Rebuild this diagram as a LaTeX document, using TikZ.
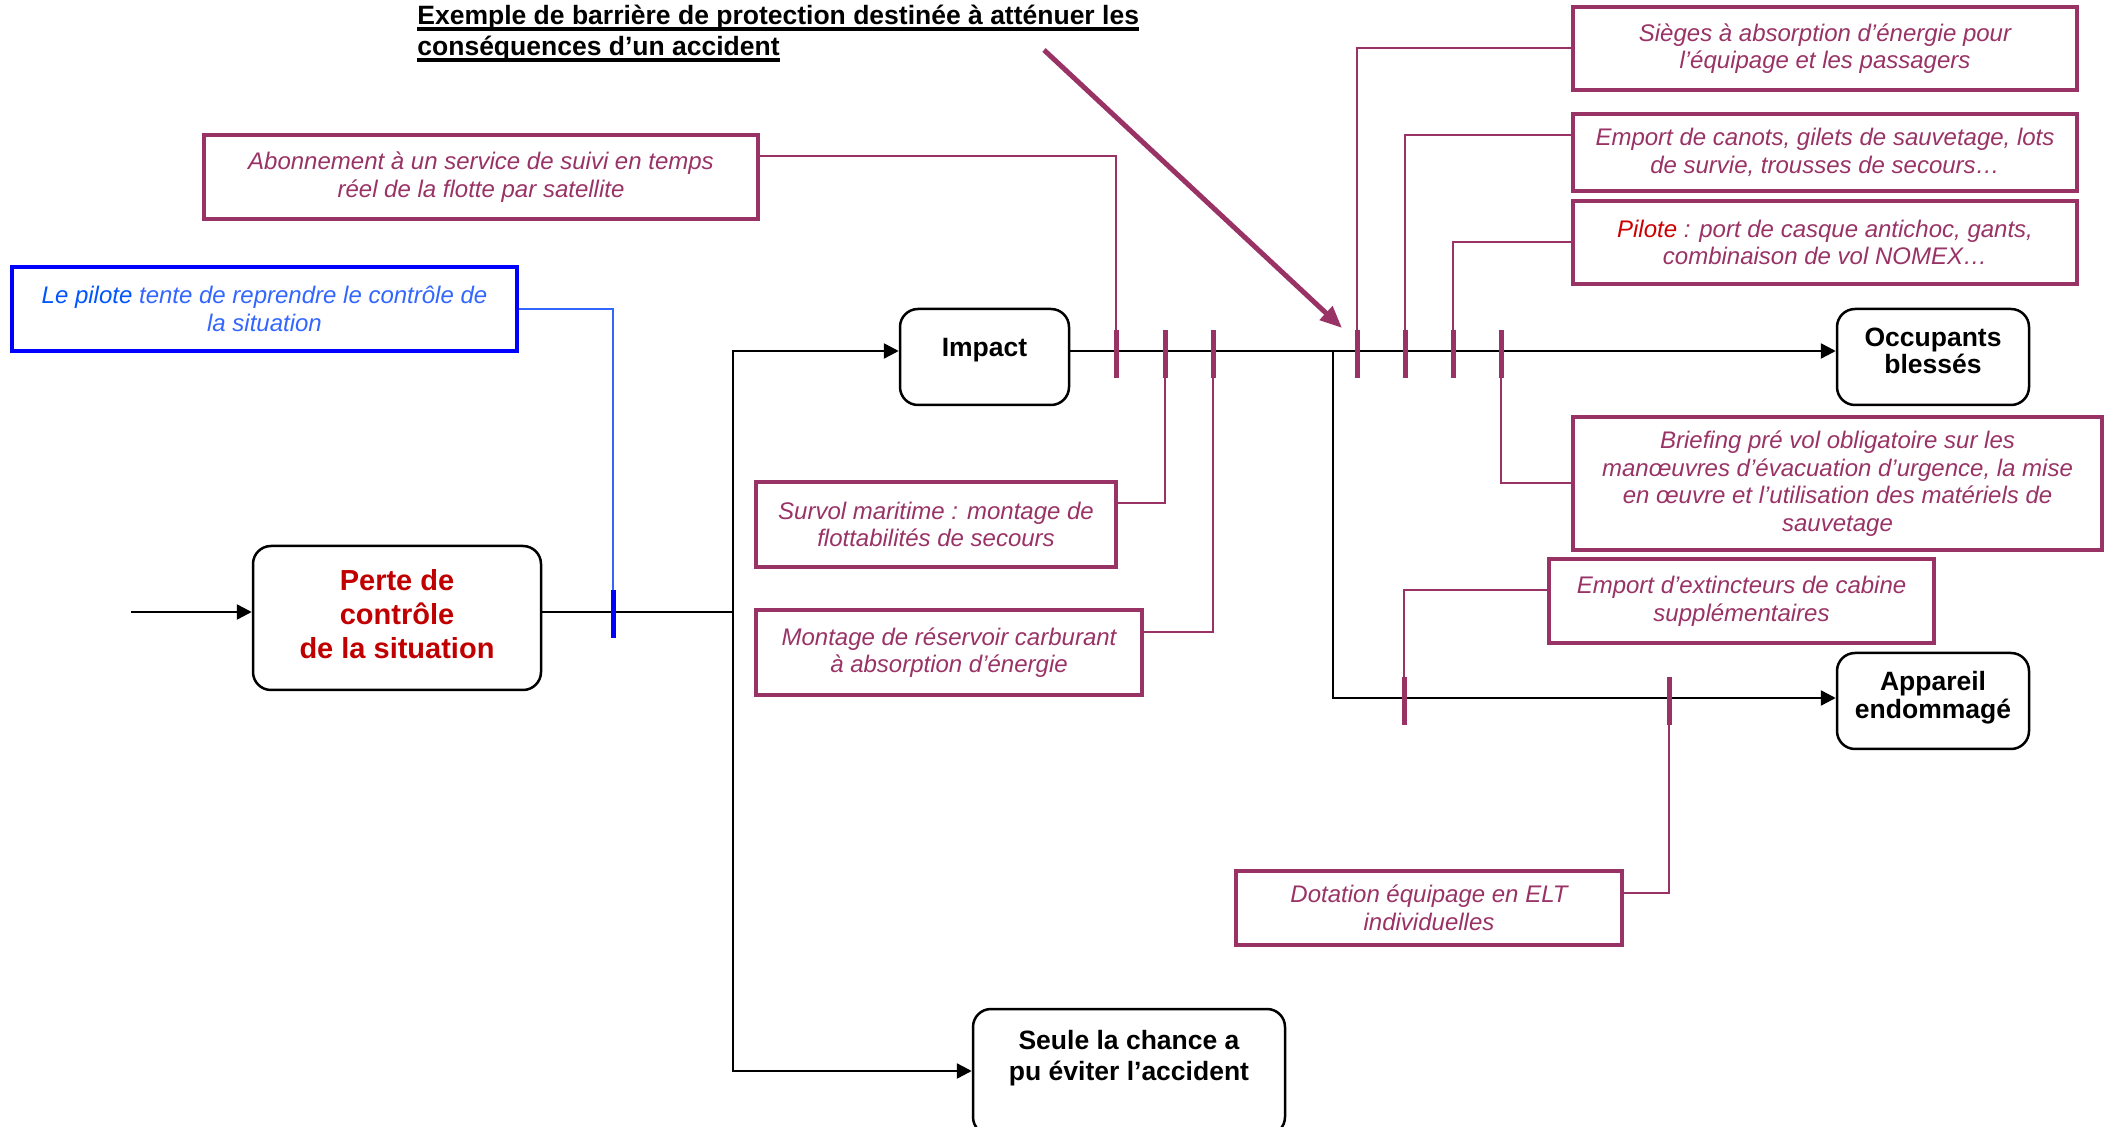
\documentclass[tikz,border=0pt]{standalone}
\usepackage{fontspec}
\setmainfont{Liberation Sans}
\usetikzlibrary{arrows.meta,calc}
\definecolor{plum}{RGB}{153,51,102}
\definecolor{deepred}{RGB}{192,0,0}
\definecolor{brightred}{RGB}{204,0,0}
\definecolor{bluebox}{RGB}{0,0,255}
\definecolor{bluetext}{RGB}{51,102,255}
\definecolor{bluehead}{RGB}{0,85,255}
% raises a node's text by adding depth below its last line
\newcommand{\txtlift}[1]{\rule[-#1]{0pt}{#1}}
% heavy underline for the heading
\newcommand{\ulheavy}[1]{\setbox0\hbox{#1}\leavevmode\rlap{\rule[-2.9pt]{\wd0}{1.7pt}}\box0}
\tikzset{
  evt/.style={draw=black, line width=1.25pt, rounded corners=9pt, align=center,
    font=\fontsize{13.25pt}{13.7pt}\selectfont\bfseries, inner sep=0pt},
  measure/.style={draw=plum, line width=2pt, align=center, text=plum,
    font=\fontsize{12pt}{13.8pt}\selectfont\itshape, inner sep=0pt},
  barrier/.style={fill=plum, draw=none, minimum width=2.5pt, minimum height=24pt, inner sep=0pt},
  link/.style={draw=plum, line width=1pt},
  wire/.style={draw=black, line width=1.25pt},
  flow/.style={wire, -{Triangle[length=7.5pt,width=7.5pt]}},
}
\begin{document}
\begin{tikzpicture}[x=0.5pt,y=-0.5pt]
\useasboundingbox (0,0) rectangle (2109,1127);

% title
\node[anchor=north west, align=left, inner sep=0pt,
  font=\fontsize{13.25pt}{15.5pt}\selectfont\bfseries] (title) at (417,5)
  {\ulheavy{Exemple de barrière de protection destinée à atténuer les}\\
   \ulheavy{conséquences d’un accident}};

% events
\node[evt, minimum width=144pt, minimum height=72pt, text=deepred,
  font=\fontsize{14.5pt}{17pt}\selectfont\bfseries] (perte) at (397,618)
  {Perte de\\contrôle\\de la situation\txtlift{4pt}};
\node[evt, minimum width=84.5pt, minimum height=48pt] (impact) at (984.5,357)
  {Impact\txtlift{10pt}};
\node[evt, minimum width=96pt, minimum height=48pt] (occ) at (1933,357)
  {Occupants\\blessés\txtlift{6pt}};
\node[evt, minimum width=96pt, minimum height=48pt] (app) at (1933,701)
  {Appareil\\endommagé\txtlift{6pt}};
\node[evt, minimum width=156pt, minimum height=63pt,
  font=\fontsize{13.25pt}{15.5pt}\selectfont\bfseries] (seule) at (1129,1072)
  {Seule la chance a\\pu éviter l’accident\txtlift{17pt}};

% protection measures
\node[draw=bluebox, line width=2pt, align=center, inner sep=0pt,
  font=\fontsize{12pt}{13.8pt}\selectfont\itshape, text=bluetext,
  minimum width=252.5pt, minimum height=42pt] (pilot) at (264.5,309)
  {{\color{bluehead}Le pilote} tente de reprendre le contrôle de\\la situation};
\node[measure, minimum width=277pt, minimum height=42pt] (abon) at (481,177)
  {Abonnement à un service de suivi en temps\\réel de la flotte par satellite};
\node[measure, minimum width=180pt, minimum height=42.5pt] (survol) at (936,524.5)
  {Survol maritime : montage de\\flottabilités de secours};
\node[measure, minimum width=193pt, minimum height=42.5pt] (montage) at (949,652.5)
  {Montage de réservoir carburant\\à absorption d’énergie};
\node[measure, minimum width=252pt, minimum height=41.5pt] (sieges) at (1825,48.5)
  {Sièges à absorption d’énergie pour\\l’équipage et les passagers};
\node[measure, minimum width=252pt, minimum height=38.5pt] (canots) at (1825,152.5)
  {Emport de canots, gilets de sauvetage, lots\\de survie, trousses de secours…};
\node[measure, minimum width=252pt, minimum height=41.5pt] (casque) at (1825,242.5)
  {{\color{brightred}Pilote} : port de casque antichoc, gants,\\combinaison de vol NOMEX…};
\node[measure, minimum width=264.5pt, minimum height=66.5pt] (brief) at (1837.5,483.5)
  {Briefing pré vol obligatoire sur les\\manœuvres d’évacuation d’urgence, la mise\\en œuvre et l’utilisation des matériels de\\sauvetage};
\node[measure, minimum width=192.5pt, minimum height=42pt] (extinct) at (1741.5,601)
  {Emport d’extincteurs de cabine\\supplémentaires};
\node[measure, minimum width=193pt, minimum height=37pt] (elt) at (1429,908)
  {Dotation équipage en ELT\\individuelles};

% event sequence
\coordinate (src) at (131,612);
\coordinate (split) at (733,612);
\coordinate (top) at (733,351);
\coordinate (bot) at (733,1071);
\coordinate (fork) at (1333,351);
\coordinate (low) at (1333,698);
\draw[flow] (src) -- (perte.west |- src);
\draw[wire] (perte.east |- split) -- (split);
\draw[flow] (bot) -- (top) -- (impact.west |- top);
\draw[flow] (top) -- (bot) -- (seule.west |- bot);
\draw[flow] (impact.east |- top) -- (occ.west |- top);
\draw[flow] (fork) -- (low) -- (app.west |- low);

% barriers on the paths
\node[barrier, fill=bluebox] (b0) at (613,614) {};
\node[barrier] (b1) at (1116,354) {};
\node[barrier] (b2) at (1165,354) {};
\node[barrier] (b3) at (1213,354) {};
\node[barrier] (b4) at (1357,354) {};
\node[barrier] (b5) at (1405,354) {};
\node[barrier] (b6) at (1453,354) {};
\node[barrier] (b7) at (1501,354) {};
\node[barrier] (c1) at (1404,701) {};
\node[barrier] (c2) at (1669,701) {};

% measure-to-barrier links
\draw[draw=bluetext, line width=0.8pt] (pilot.east) -| (b0.north);
\draw[link] ([yshift=10.5pt]abon.east) -| (b1.north);
\draw[link] ([yshift=10.75pt]survol.east) -| (b2.south);
\draw[link] ([yshift=10.25pt]montage.east) -| (b3.south);
\draw[link] (sieges.west) -| (b4.north);
\draw[link] ([yshift=8.75pt]canots.west) -| (b5.north);
\draw[link] (casque.west) -| (b6.north);
\draw[link] (b7.south) |- (brief.west);
\draw[link] ([yshift=5.5pt]extinct.west) -| (c1.north);
\draw[link] ([yshift=7.5pt]elt.east) -| (c2.south);

% pointer from the title
\coordinate (ptrA) at (1044,50);
\coordinate (ptrB) at (1342,328);
\draw[plum, line width=2.5pt, -{Triangle[length=11pt,width=9pt]}] (ptrA) -- (ptrB);
\end{tikzpicture}
\end{document}
